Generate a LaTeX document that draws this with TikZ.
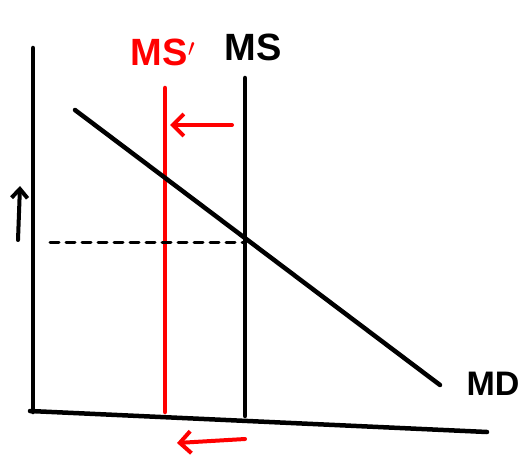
\documentclass[tikz,border=0pt]{standalone}
\usepackage{fontspec}
\setsansfont{Liberation Sans}
\usepackage{tikz}
\usetikzlibrary{arrows.meta}
\definecolor{shiftRed}{HTML}{FF0000}

\begin{document}
\begin{tikzpicture}[x=1pt, y=-1pt, line cap=round, line join=round]
            \useasboundingbox (0,0) rectangle (532,457);
            % axes
            \draw[line width=4.5pt] (33,48) -- (33,412);
            \draw[line width=4.5pt] (30,411) -- (487,432);
            \draw[line width=4pt, -{Straight Barb[length=9pt, width=16pt]}] (18,240) -- (20,186);
            % money supply, old and new
            \draw[line width=4.5pt] (245,78) -- (245,416);
            \draw[line width=4.5pt, shiftRed] (165,88) -- (165,412);
            \node[font=\sffamily\bfseries\fontsize{38}{38}\selectfont, anchor=center] (msLabel) at (253,47) {MS};
            \node[font=\sffamily\bfseries\fontsize{38}{38}\selectfont, text=shiftRed, anchor=center] (msNewLabel) at (163,52) {MS$'$};
            \draw[line width=4pt, shiftRed, -{Straight Barb[length=11pt, width=22pt]}] (232,125) -- (170,125);
            \draw[line width=4pt, shiftRed, -{Straight Barb[length=11pt, width=22pt]}] (245,439) -- (177,443);
            % money demand
            \draw[line width=4.5pt] (75,110) -- (440,385);
            \node[font=\sffamily\bfseries\fontsize{34}{34}\selectfont, anchor=center] (mdLabel) at (493,384) {MD};
            \draw[line width=3pt, dashed, dash pattern=on 9pt off 7pt] (50,242) -- (245,242);
        \end{tikzpicture}
\end{document}
